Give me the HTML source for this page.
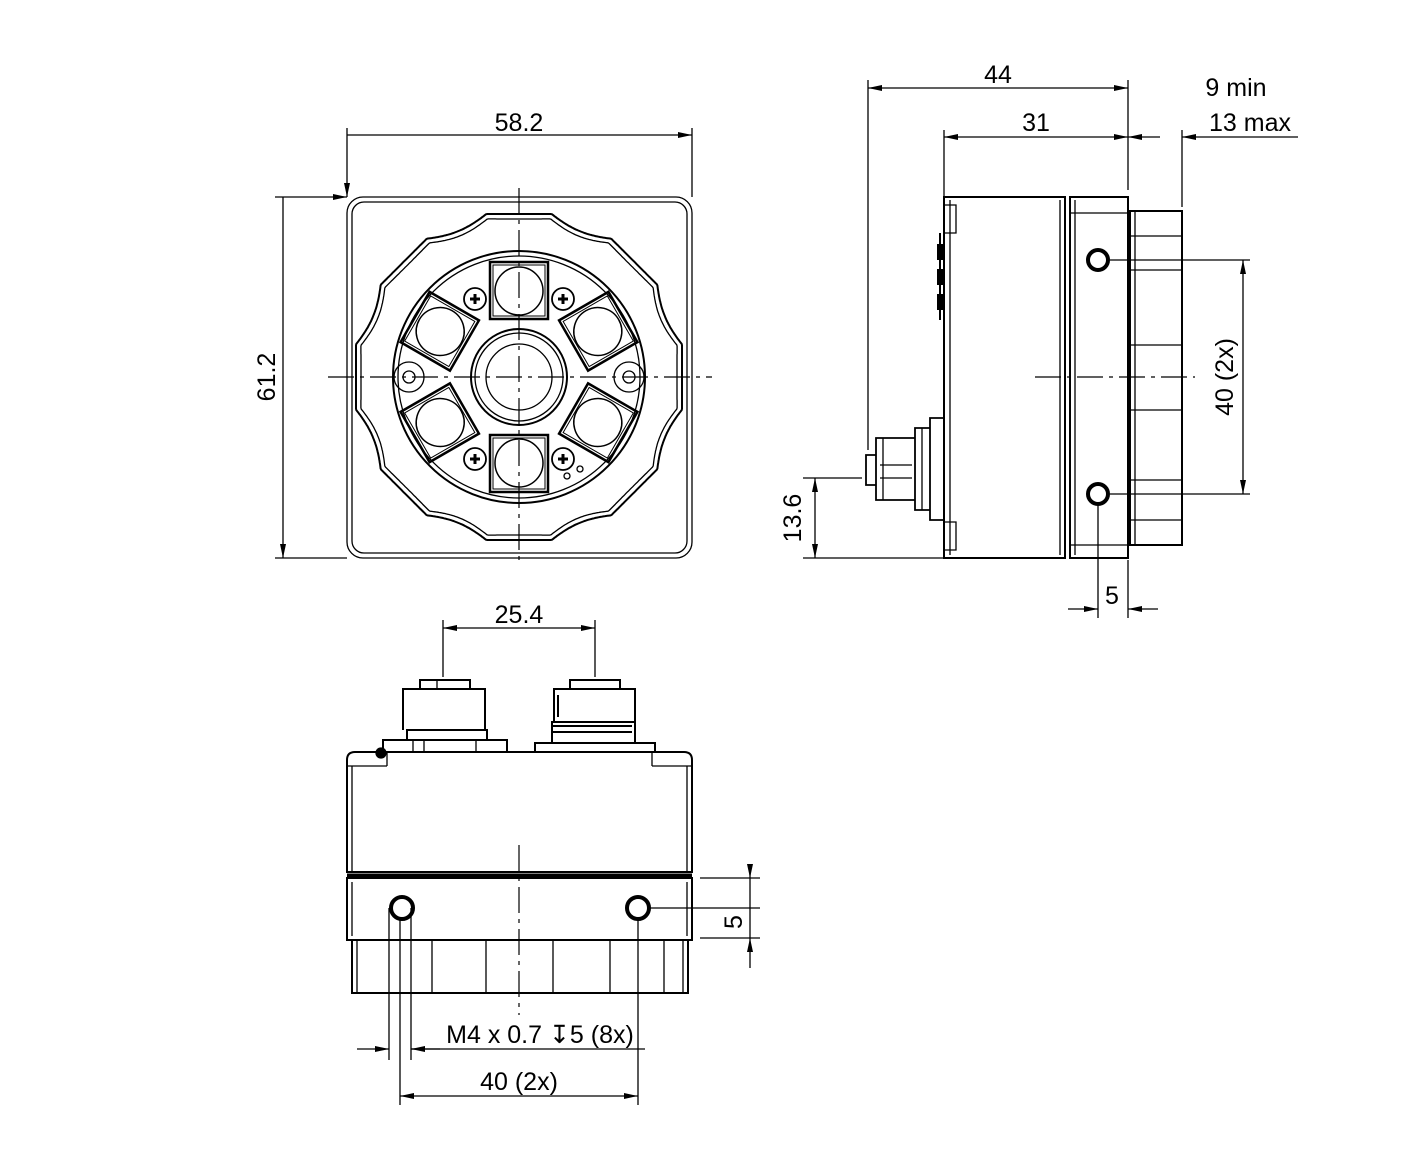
<!DOCTYPE html>
<html><head><meta charset="utf-8"><style>
html,body{margin:0;padding:0;background:#fff}
svg{display:block}
text{font-family:"Liberation Sans",Arial,sans-serif;font-size:25px;fill:#000}
</style></head><body>
<svg id="s" width="1418" height="1170" viewBox="0 0 1418 1170" xmlns="http://www.w3.org/2000/svg">
<defs>
<marker id="a" markerWidth="14" markerHeight="8" refX="14" refY="4" orient="auto-start-reverse" markerUnits="userSpaceOnUse"><path d="M0,1 L14,4 L0,7 Z" fill="#000"/></marker>
</defs>
<g fill="none" stroke="#000" stroke-width="1.3">
<!-- FRONT VIEW -->
<rect x="347" y="197" width="345" height="361" rx="16"/>
<rect x="352" y="202" width="335" height="351" rx="12"/>
<path id="wave1" stroke-width="2"/>
<path id="wave2" stroke-width="1.3"/>
<circle cx="519" cy="377" r="126" stroke-width="2"/>
<circle cx="519" cy="377" r="121"/>
<circle cx="519" cy="377" r="48" stroke-width="2"/>
<circle cx="519" cy="377" r="44"/>
<circle cx="519" cy="377" r="33"/>
<circle cx="409" cy="377" r="15"/><circle cx="409" cy="377" r="6"/>
<circle cx="629" cy="377" r="15"/><circle cx="629" cy="377" r="6"/>
<g id="conn" stroke-width="2.5">
<rect x="490" y="262" width="58" height="57"/>
<rect x="493" y="265" width="52" height="51" stroke-width="1"/>
<circle cx="519" cy="291" r="24" stroke-width="1.5"/>
</g>
<use href="#conn" transform="rotate(180 519 377)"/>
<use href="#conn" transform="rotate(60 519 377) translate(0 -5)"/>
<use href="#conn" transform="rotate(-60 519 377) translate(0 -5)"/>
<use href="#conn" transform="rotate(120 519 377) translate(0 -5)"/>
<use href="#conn" transform="rotate(-120 519 377) translate(0 -5)"/>
<g id="scr"><circle cx="475" cy="299" r="11" stroke-width="1.8"/><path d="M470,299h10M475,294v10" stroke-width="3"/></g>
<use href="#scr" transform="translate(88 0)"/>
<use href="#scr" transform="translate(0 160)"/>
<use href="#scr" transform="translate(88 160)"/>
<circle cx="567" cy="476" r="3"/><circle cx="580" cy="469" r="3"/>
<g stroke-dasharray="26,6,4,6" stroke-width="1.2">
<path d="M519,188V566M328,377H712"/>
</g>
<!-- front dims -->
<path d="M347,197V128M692,197V128M347,135H692" marker-start="url(#a)" marker-end="url(#a)"/>
<path d="M347,197H275M347,558H275M283,197V558" marker-start="url(#a)" marker-end="url(#a)"/>

<!-- SIDE VIEW -->
<path d="M944,197H1065V558H944Z" stroke-width="2"/>
<path d="M950,200V555M1060,200V555"/>
<path d="M944,205H956V233H944M944,522H956V550H944"/>
<path d="M940,233V320M938,245h4v14h-4zM938,270h4v14h-4zM938,295h4v14h-4z" stroke-width="2"/>
<path d="M1070,197H1128V558H1070Z" stroke-width="2"/>
<path d="M1075,200V555M1070,213H1128M1070,545H1128"/>
<path d="M1130,211H1182V545H1130Z" stroke-width="2"/>
<path d="M1135,211V545M1130,270H1182M1130,345H1182M1130,410H1182M1130,480H1182M1130,236H1182M1130,520H1182"/>
<circle cx="1098" cy="260" r="10" stroke-width="4"/>
<circle cx="1098" cy="494" r="10" stroke-width="4"/>
<path d="M930,418H944V520H930ZM915,428H930V510H915ZM876,438H915V500H876ZM866,455H876V485H866Z" stroke-width="1.8"/>
<path d="M922,428V510M880,465H912M880,478H912M883,438V500" />
<g stroke-dasharray="26,6,4,6" stroke-width="1.2"><path d="M1035,377H1195"/></g>
<!-- side dims -->
<path d="M868,80V450M1128,80V190M944,130V197M1182,130V207"/>
<path d="M868,88H1128" marker-start="url(#a)" marker-end="url(#a)"/>
<path d="M944,137H1128" marker-start="url(#a)" marker-end="url(#a)"/>
<path d="M1128,137H1160" marker-start="url(#a)"/>
<path d="M1182,137H1298" marker-start="url(#a)"/>
<path d="M1110,260H1250M1110,494H1250"/>
<path d="M1243,260V494" marker-start="url(#a)" marker-end="url(#a)"/>
<path d="M803,478H862M803,558H944"/>
<path d="M815,478V558" marker-start="url(#a)" marker-end="url(#a)"/>
<path d="M1098,505V618M1128,560V618"/>
<path d="M1068,609H1098" marker-end="url(#a)"/>
<path d="M1158,609H1128" marker-end="url(#a)"/>

<!-- BOTTOM VIEW -->
<path d="M347,760Q347,752 355,752H684Q692,752 692,760V872H347Z" stroke-width="2"/>
<path d="M352,766V872M687,766V872M347,766H387M652,766H692"/>
<path d="M347,878H692V940H347Z" stroke-width="2"/>
<path d="M347,876H692" stroke-width="5"/>
<path d="M352,882V936M687,882V936"/>
<path d="M352,940H688V993H352Z" stroke-width="2"/>
<path d="M357,940V993M432,940V993M486,940V993M553,940V993M610,940V993M664,940V993M683,940V993"/>
<path d="M382,752H660" stroke-width="2"/>
<path d="M387,752V766M652,752V766"/>
<!-- left connector -->
<path d="M383,752V740H507V752M407,740V730H487V740M403,730V689H485V730M420,689V680H470V689" stroke-width="2"/>
<path d="M413,740V752M424,740V752M476,740V752M437,680V689"/>
<!-- right connector -->
<path d="M535,752V743H655V752M552,743V722H635V743M554,722V689H635V722M570,689V680H620V689" stroke-width="2"/>
<path d="M552,726H632M552,732H632M558,695V717" stroke-width="2"/>
<circle cx="381" cy="753" r="5" fill="#000"/>
<circle cx="402" cy="908" r="11" stroke-width="4"/>
<circle cx="638" cy="908" r="11" stroke-width="4"/>
<g stroke-dasharray="26,6,4,6" stroke-width="1.2"><path d="M519,845V1015"/></g>
<!-- bottom dims -->
<path d="M443,620V677M595,620V677"/>
<path d="M443,628H595" marker-start="url(#a)" marker-end="url(#a)"/>
<path d="M649,908H760M700,938H760M700,878H760"/>
<path d="M750,868V878" marker-end="url(#a)"/>
<path d="M750,968V938" marker-end="url(#a)"/>
<path d="M750,878V938"/>
<path d="M389,908V1060M411,908V1060M400,920V1105M638,920V1105"/>
<path d="M357,1049H389" marker-end="url(#a)"/>
<path d="M440,1049H411" marker-end="url(#a)"/>
<path d="M411,1049H645"/>
<path d="M400,1096H638" marker-start="url(#a)" marker-end="url(#a)"/>
</g>
<text x="519" y="131" text-anchor="middle">58.2</text>
<text transform="translate(275 377) rotate(-90)" text-anchor="middle">61.2</text>
<text x="998" y="83" text-anchor="middle">44</text>
<text x="1036" y="131" text-anchor="middle">31</text>
<text x="1236" y="96" text-anchor="middle">9 min</text>
<text x="1250" y="131" text-anchor="middle">13 max</text>
<text transform="translate(1233 377) rotate(-90)" text-anchor="middle">40 (2x)</text>
<text transform="translate(801 518) rotate(-90)" text-anchor="middle">13.6</text>
<text x="1112" y="604" text-anchor="middle">5</text>
<text x="519" y="623" text-anchor="middle">25.4</text>
<text transform="translate(742 922) rotate(-90)" text-anchor="middle">5</text>
<text x="540" y="1043" text-anchor="middle">M4 x 0.7 &#x21A7;5 (8x)</text>
<text x="519" y="1090" text-anchor="middle">40 (2x)</text>
</svg>
<script>
function wave(R,off){var d="";for(var i=0;i<=720;i++){var deg=i/2;var t=deg*Math.PI/180;
var m=((deg-22.5)%45+45)%45-22.5; var phi=Math.abs(m)*Math.PI/180;
var oct=R/Math.cos(phi);
var dv=22.5-Math.abs(m); var notch=(R-5)+0.066*dv*dv;
var r=Math.min(oct,notch)-off;
var x=519+r*Math.sin(t),y=377-r*Math.cos(t);d+=(i?"L":"M")+x.toFixed(1)+","+y.toFixed(1);}return d+"Z";}
document.getElementById("wave1").setAttribute("d",wave(163,0));
document.getElementById("wave2").setAttribute("d",wave(163,5));
</script>
</body></html>
